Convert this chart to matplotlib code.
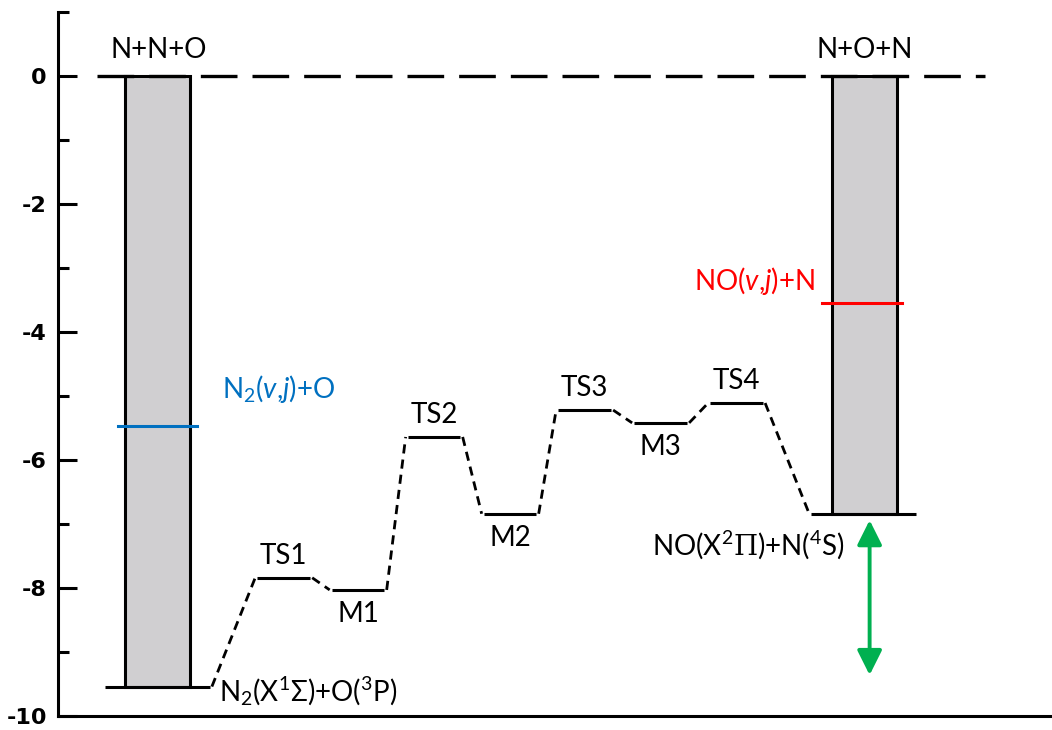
import numpy as np
import matplotlib
matplotlib.use("Agg")
import matplotlib.pyplot as plt
from matplotlib.patches import Rectangle

plt.rcParams['axes.unicode_minus'] = False
plt.rcParams['mathtext.fontset'] = 'custom'
plt.rcParams['mathtext.rm'] = 'Lato'
plt.rcParams['mathtext.it'] = 'Lato:italic'
plt.rcParams['mathtext.sf'] = 'DejaVu Serif'

# stationary points on the N2 + O -> NO + N path (energies in eV)
path_names = ["N2+O", "TS1", "M1", "TS2", "M2", "TS3", "M3", "TS4", "NO+N"]
path_x = [1.31, 2.97, 3.95, 4.95, 5.95, 6.93, 7.93, 8.93, 10.60]
path_E = [-9.54, -7.84, -8.03, -5.64, -6.84, -5.22, -5.42, -5.11, -6.84]

# dissociation limit and the two asymptotes with their energies
E_atoms = 0.0
E_n2_vj = -5.47
E_no_vj = -3.55
arrow_E = [-6.94, -9.36]

bar_x = [1.31, 10.61]
bar_bottom = [-9.54, -6.84]

fig = plt.figure(figsize=(10.52, 7.30), dpi=100)
ax = fig.add_axes([58 / 1052, 14 / 730, 994 / 1052, 704 / 730])
ax.set_xlim(0, 13.08)
ax.set_ylim(-10, 1)

lw_level = 2.2
wide = 1.37   # reactant/product level width
narrow = 0.69 # intermediate/TS level width

# grey columns for the bound region of N2 and NO
for xc, yb in zip(bar_x, bar_bottom):
    ax.add_patch(Rectangle((xc - 0.43, yb), 0.86, E_atoms - yb,
                           facecolor='#d0cfd1', edgecolor='black', lw=2.2, zorder=2))

# zero-energy dashed line
ax.plot([0.51, 12.2], [E_atoms, E_atoms], color='black', lw=2.4,
        linestyle=(0, (11, 4.5)), zorder=3)

# energy levels
ends = []
for i, (x, e) in enumerate(zip(path_x, path_E)):
    w = wide if i in (0, len(path_x) - 1) else narrow
    x0, x1 = x - w / 2, x + w / 2
    ax.plot([x0, x1], [e, e], color='black', lw=lw_level, solid_capstyle='butt', zorder=3)
    ends.append((x0, x1))

# dashed connectors between consecutive levels
for i in range(len(path_x) - 1):
    xa = ends[i][1] + 0.03
    xb = ends[i + 1][0] - 0.03
    ax.plot([xa, xb], [path_E[i], path_E[i + 1]], color='black', lw=2.0,
            linestyle=(0, (3.3, 2.2)), zorder=3)

# rovibrational levels
ax.plot([0.79, 1.83], [E_n2_vj, E_n2_vj], color='#0070c0', lw=2.2, zorder=4)
ax.plot([10.05, 11.11], [E_no_vj, E_no_vj], color='#ff0000', lw=2.2, zorder=4)

# green double arrow
ax.annotate('', xy=(10.68, arrow_E[0]), xytext=(10.68, arrow_E[1]),
            arrowprops=dict(arrowstyle='<|-|>,head_length=1.5,head_width=0.75',
                            color='#00b050', lw=2.8, shrinkA=0, shrinkB=0), zorder=5)

fs = 20
tfont = dict(family='Lato', fontsize=fs, color='black')
ax.text(1.32, 0.41, 'N+N+O', ha='center', va='center', **tfont)
ax.text(10.62, 0.41, 'N+O+N', ha='center', va='center', **tfont)

for name, x, e in zip(path_names[1:-1], path_x[1:-1], path_E[1:-1]):
    if name.startswith('TS'):
        ax.text(x, e + 0.22, name, ha='center', va='baseline', **tfont)
    else:
        ax.text(x, e - 0.5, name, ha='center', va='baseline', **tfont)

ax.text(2.12, -9.78, r'N$_2$(X$^1\Sigma$)+O($^3$P)', ha='left', va='baseline', **tfont)
ax.text(7.82, -7.48, r'NO(X$^2\mathsf{\Pi}$)+N($^4$S)', ha='left', va='baseline', **tfont)
ax.text(2.16, -5.03, r'N$_2$($v$,$j$)+O', ha='left', va='baseline',
        family='Lato', fontsize=fs, color='#0070c0')
ax.text(9.96, -3.34, r'NO($v$,$j$)+N', ha='right', va='baseline',
        family='Lato', fontsize=fs, color='#ff0000')

# axes styling
for s in ['top', 'right']:
    ax.spines[s].set_visible(False)
ax.spines['left'].set_linewidth(2.2)
ax.spines['bottom'].set_linewidth(2.2)
ax.set_yticks(np.arange(-10, 1, 2))
ax.set_yticks(np.arange(-9, 2, 2), minor=True)
ax.set_yticklabels([str(v) for v in range(-10, 1, 2)])
ax.tick_params(axis='y', which='major', direction='in', length=14, width=2.2, pad=8)
ax.tick_params(axis='y', which='minor', direction='in', length=8, width=2.2)
ax.set_xticks([])
for lab in ax.get_yticklabels():
    lab.set_fontfamily('DejaVu Sans')
    lab.set_fontweight('bold')
    lab.set_fontsize(16)

fig.savefig('out.png', dpi=100)
